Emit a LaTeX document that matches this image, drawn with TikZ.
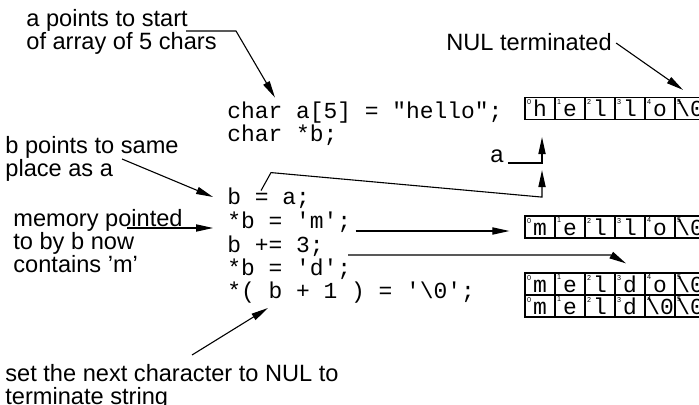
\documentclass[tikz,border=0pt]{standalone}
\usepackage{fontspec}
\setmainfont{Liberation Sans}
\setsansfont{Liberation Sans}
\setmonofont{Liberation Mono}
\usetikzlibrary{arrows.meta,positioning,calc}
\tikzset{
    every node/.append style={inner sep=0pt},
    note/.style={align=left,anchor=north west,font=\fontsize{11.8}{11.5}\selectfont},
    code/.style={anchor=west,font=\ttfamily\fontsize{11.46}{11.5}\selectfont,
        text height=7pt,text depth=2pt},
    cell/.style={draw,line width=0.6pt,minimum width=15pt,minimum height=11pt,
        font=\ttfamily\fontsize{11.46}{11.5}\selectfont,text height=8.5pt,text depth=0.5pt},
    idx/.style={anchor=north west,font=\sffamily\fontsize{3.6}{4}\selectfont,inner sep=1.1pt},
    arr/.style={-{Triangle[length=8.5pt,width=3.6pt]},line width=0.55pt}
}

\begin{document}
\begin{tikzpicture}[x=0.5pt,y=-0.5pt]
    \useasboundingbox (0,0) rectangle (699,405);
    \clip (0,0) rectangle (699,405);

    % the code
    \node[code] (cdecl)   at (227,114) {char a[5] = "hello";};
    \node[code] (cptr)    at (227,137) {char *b;};
    \node[code] (cassign) at (227,200) {b = a;};
    \node[code] (cstorem) at (227,223) {*b = 'm';};
    \node[code] (cadd)    at (227,247) {b += 3;};
    \node[code] (cstored) at (227,270) {*b = 'd';};
    \node[code] (cterm)   at (227,293) {*( b + 1 ) = '\textbackslash0';};

    % memory rows, index in the corner of every cell
    \foreach \ch [count=\i from 0] in {h,e,l,l,o,\textbackslash0} {
        \node[cell] (r1c\i) at (540+30*\i,108.5) {\ch};
        \node[idx] at (r1c\i.north west) {\i};
    }
    \foreach \ch [count=\i from 0] in {m,e,l,l,o,\textbackslash0} {
        \node[cell] (r2c\i) at (540+30*\i,227) {\ch};
        \node[idx] at (r2c\i.north west) {\i};
    }
    \foreach \ch [count=\i from 0] in {m,e,l,d,o,\textbackslash0} {
        \node[cell] (r3c\i) at (540+30*\i,284) {\ch};
        \node[idx] at (r3c\i.north west) {\i};
    }
    \foreach \ch [count=\i from 0] in {m,e,l,d,\textbackslash0,\textbackslash0} {
        \node[cell] (r4c\i) at (540+30*\i,306) {\ch};
        \node[idx] at (r4c\i.north west) {\i};
    }

    % notes
    \node[note] (notestart) at (26,9.5) {a points to start\\of array of 5 chars};
    \node[note,anchor=west] (notenul) at (446,42) {NUL terminated};
    \node[note,anchor=base west] (notea) at (490,163) {a};
    \node[note] (notesame) at (5,136) {b points to same\\place as a};
    \node[note] (notemem) at (13,209) {memory pointed\\to by b now\\contains 'm'};
    \node[note] (noteend) at (5,364) {set the next character to NUL to\\terminate string};

    \coordinate (atip)  at ($(r1c0.south)+(2,17)$);
    \coordinate (bturn) at ($(r1c0.south)+(2,77)$);
    \coordinate (btip)  at ($(r1c0.south)+(2,50)$);
    \coordinate (btail) at ($(cassign.north west)+(34,0)$);

    \draw[arr] ($(notestart.north west)+(160,21.5)$) -- ++(50,0) -- ($(cdecl.north west)+(48,-7)$);
    \draw[arr] ($(notenul.east)+(4,1)$) -- ($(r1c5.north)+(-7,-7)$);
    \draw[arr] ($(notea.base east)+(4,0)$) -| (atip);
    \draw[arr] (btail) -- ++(10,-18) -- (bturn) -- (btip);
    \draw[arr] ($(notesame.north west)+(117,23)$) -- ($(cassign.west)+(-14,-3)$);
    \draw[arr] ($(notemem.north west)+(114,19)$) -- ($(cstorem.west)+(-14,5)$);
    \draw[arr] ($(cstorem.east)+(4,8)$) -- ($(r2c0.west)+(-15,4)$);
    \draw[arr] ($(cadd.east)+(24,8)$) -- ++(263,0) -- ($(r3c3.north)+(-4,-9)$);
    \draw[arr] ($(noteend.north west)+(187,-9)$) -- ($(cterm.west)+(41,15)$);
\end{tikzpicture}
\end{document}
